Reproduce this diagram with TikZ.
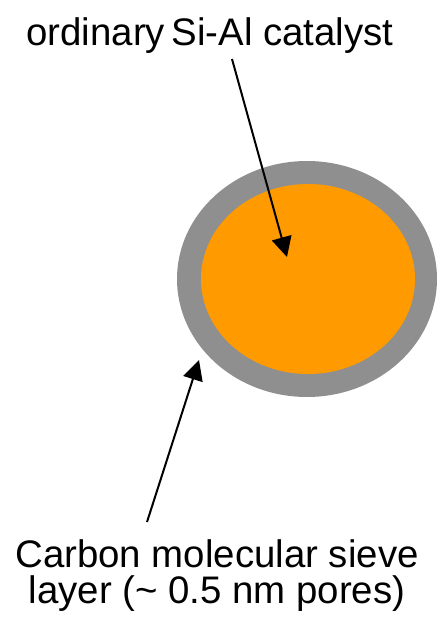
\documentclass[tikz,border=0pt]{standalone}
\usepackage{fontspec}
\setmainfont{Liberation Sans}
\usetikzlibrary{shapes.geometric,arrows.meta}
\definecolor{shellgray}{HTML}{8F8F8F}
\definecolor{coreorange}{HTML}{FF9B00}
\tikzset{
  lbl/.style={font=\fontsize{38.4}{36}\selectfont, inner sep=0pt, align=center},
  pointer/.style={line width=2pt, -{Triangle[length=20pt,width=20pt]}},
  blob/.style={ellipse, inner sep=0pt, draw=none}
}
\begin{document}
\begin{tikzpicture}[x=1pt,y=-1pt]
\useasboundingbox (0,0) rectangle (437,626);
\node[blob, fill=shellgray, minimum width=260pt, minimum height=236pt] (shell) at (307,279) {};
\node[blob, fill=coreorange, minimum width=214pt, minimum height=190pt] (core) at (308,279) {};
\node[lbl, anchor=base] (top) at (210,46) {ordinary\,Si-Al catalyst};
\node[lbl, anchor=base] (bot) at (217,603) {Carbon molecular sieve\\layer (\textasciitilde{} 0.5 nm pores)};
\coordinate (s1) at (232,59);
\coordinate (t1) at (287,257);
\coordinate (s2) at (147,522);
\coordinate (t2) at (199,360);
\draw[pointer] (s1) -- (t1);
\draw[pointer] (s2) -- (t2);
\end{tikzpicture}
\end{document}
